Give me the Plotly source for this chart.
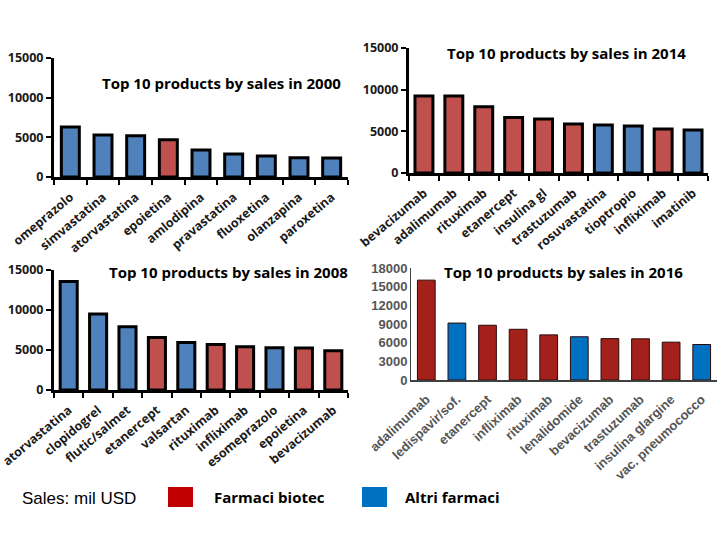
import plotly.graph_objects as go

# ---------------- data ----------------
cats_2000 = ["omeprazolo", "simvastatina", "atorvastatina", "epoietina", "amlodipina",
             "pravastatina", "fluoxetina", "olanzapina", "paroxetina"]
vals_2000 = [6300, 5300, 5200, 4700, 3400, 2900, 2650, 2420, 2400]
type_2000 = ["altri", "altri", "altri", "bio", "altri", "altri", "altri", "altri", "altri"]

cats_2014 = ["bevacizumab", "adalimumab", "rituximab", "etanercept", "insulina gl",
             "trastuzumab", "rosuvastatina", "tioptropio", "infliximab", "imatinib"]
vals_2014 = [9250, 9250, 7950, 6650, 6480, 5880, 5760, 5640, 5280, 5150]
type_2014 = ["bio", "bio", "bio", "bio", "bio", "bio", "altri", "altri", "bio", "altri"]

cats_2008 = ["atorvastatina", "clopidogrel", "flutic/salmet", "etanercept", "valsartan",
             "rituximab", "infliximab", "esomeprazolo", "epoietina", "bevacizumab"]
vals_2008 = [13550, 9500, 7900, 6550, 5950, 5700, 5420, 5280, 5260, 4900]
type_2008 = ["altri", "altri", "altri", "bio", "altri", "bio", "bio", "altri", "bio", "bio"]

cats_2016 = ["adalimumab", "ledispavir/sof.", "etanercept", "infliximab", "rituximab",
             "lenalidomide", "bevacizumab", "trastuzumab", "insulina glargine", "vac. pneumococco"]
vals_2016 = [16050, 9150, 8800, 8150, 7250, 6950, 6650, 6620, 6080, 5700]
type_2016 = ["bio", "altri", "bio", "bio", "bio", "altri", "bio", "bio", "bio", "altri"]

ticks_old = [0, 5000, 10000, 15000]
ticks_2016 = [0, 3000, 6000, 9000, 12000, 15000, 18000]

titles = ["Top 10 products by sales in 2000", "Top 10 products by sales in 2014",
          "Top 10 products by sales in 2008", "Top 10 products by sales in 2016"]
legend_labels = ["Farmaci biotec", "Altri farmaci"]
unit_label = "Sales: mil USD"

# ---------------- style ----------------
W, H = 720, 540
OLD = {"bio": "#c0504d", "altri": "#4f81bd"}
NEW = {"bio": "#a3201b", "altri": "#0070c0"}
LEG = {"bio": "#c00000", "altri": "#0070c0"}


def px_x(x):
    return x / W


def px_y(y):
    return 1 - y / H


fig = go.Figure()

panels = [
    # cats, vals, types, axis id, x px range, y px range(top,bottom), palette, width, ymax, ticks
    (cats_2000, vals_2000, type_2000, "", (54, 348), (58, 177), OLD, 0.55, 15000, ticks_old),
    (cats_2014, vals_2014, type_2014, "2", (409, 708), (48, 173), OLD, 0.6, 15000, ticks_old),
    (cats_2008, vals_2008, type_2008, "3", (54, 348), (270, 390), OLD, 0.58, 15000, ticks_old),
    (cats_2016, vals_2016, type_2016, "4", (411, 717), (268, 380), NEW, 0.58, 18000, ticks_2016),
]

for i, (cats, vals, types, ax, xr, yr, pal, bw, ymax, tv) in enumerate(panels):
    modern = (i == 3)
    fig.add_trace(go.Bar(
        x=cats, y=vals, xaxis="x" + ax, yaxis="y" + ax,
        marker=dict(color=[pal[t] for t in types],
                    line=dict(color="#2a0a0a" if modern else "black", width=1 if modern else 3)),
        width=bw, showlegend=False, hoverinfo="x+y", cliponaxis=False,
    ))
    xa = dict(domain=[px_x(xr[0]), px_x(xr[1])], anchor="y" + ax, type="category",
              showgrid=False, zeroline=False, showline=True,
              tickangle=-43 if modern else -40, automargin=False,
              ticklabelstandoff=5)
    ya = dict(domain=[px_y(yr[1]), px_y(yr[0])], anchor="x" + ax, range=[0, ymax],
              showgrid=False, zeroline=False, showline=True, automargin=False,
              tickvals=tv, ticktext=[str(v) for v in tv])
    if modern:
        xa.update(linecolor="#404040", linewidth=1.5, ticks="",
                  tickfont=dict(family="Liberation Sans", size=13, color="#555555", weight="bold"))
        ya.update(linecolor="#404040", linewidth=1, ticks="",
                  tickfont=dict(family="Liberation Sans", size=13, color="#555555", weight="bold"))
    else:
        xa.update(linecolor="black", linewidth=3, ticks="outside", tickson="boundaries",
                  ticklen=5, tickwidth=2, tickcolor="black",
                  tickfont=dict(family="Open Sans", size=12.5, color="#1a1a1a", weight="bold"))
        ya.update(linecolor="black", linewidth=3, ticks="outside", ticklen=5, tickwidth=2,
                  tickcolor="black",
                  tickfont=dict(family="Open Sans", size=12.5, color="#1a1a1a", weight="bold"))
    fig.layout["xaxis" + ax] = xa
    fig.layout["yaxis" + ax] = ya

# titles
title_pos = [(221, 83), (566, 53), (228, 272), (563, 272)]
for t, (cx, cy) in zip(titles, title_pos):
    fig.add_annotation(text=t, x=px_x(cx), y=px_y(cy), xref="paper", yref="paper",
                       showarrow=False, xanchor="center", yanchor="middle",
                       font=dict(family="Open Sans", size=15, color="black", weight="bold"))

# legend
fig.add_annotation(text=unit_label, x=px_x(20), y=px_y(498), xref="paper", yref="paper",
                   showarrow=False, xanchor="left", yanchor="middle",
                   font=dict(family="Liberation Sans", size=17, color="black"))
leg = [("bio", 168, 212), ("altri", 362, 403)]
for (k, sx, tx), lab in zip(leg, legend_labels):
    fig.add_shape(type="rect", xref="paper", yref="paper",
                  x0=px_x(sx), x1=px_x(sx + 25), y0=px_y(507), y1=px_y(487),
                  fillcolor=LEG[k], line=dict(width=0))
    fig.add_annotation(text=lab, x=px_x(tx), y=px_y(497), xref="paper", yref="paper",
                       showarrow=False, xanchor="left", yanchor="middle",
                       font=dict(family="Open Sans", size=15, color="black", weight="bold"))

fig.update_layout(width=W, height=H, margin=dict(l=0, r=0, t=0, b=0),
                  paper_bgcolor="white", plot_bgcolor="white", bargap=0.4)
fig.write_html("out.html", config={"displayModeBar": False},
               post_script="document.body.style.margin='0px';")
